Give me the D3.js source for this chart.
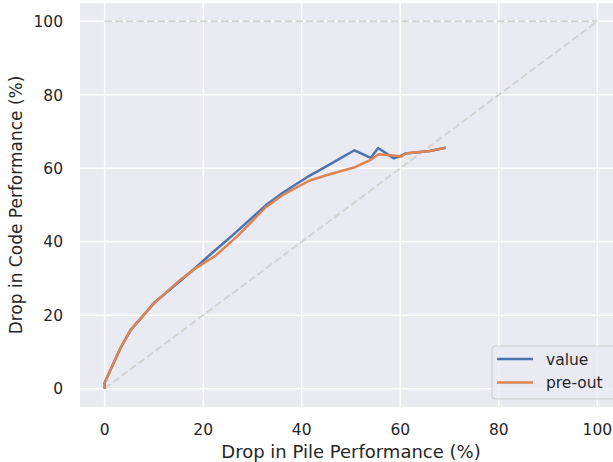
<!DOCTYPE html>
<html>
<head>
<meta charset="utf-8">
<script src="https://cdn.jsdelivr.net/npm/d3@7"></script>
<style>
  body { margin: 0; background: #fff; }
  text { font-family: "DejaVu Sans", sans-serif; fill: #262626; }
</style>
</head>
<body>
<div id="chart"></div>
<script>
// series
var seriesNames = ["value", "pre-out"];
var valueX = [0, 0, 3.2, 5.3, 10, 15.5, 18.5, 21.5, 26, 32.7, 36, 41, 45, 50.7, 54, 55.5, 58.7, 60, 61, 66, 69.2];
var valueY = [0, 1.6, 11, 16, 23.3, 29.5, 33, 36.6, 41.8, 49.9, 53.2, 57.5, 60.5, 64.9, 62.8, 65.5, 62.7, 63.3, 64, 64.7, 65.6];
var preoutX = [0, 0, 3.2, 5.3, 10, 15.5, 18.5, 22.5, 27, 32.7, 36, 41.5, 45, 50.6, 54, 55.6, 58.5, 60.3, 61, 66, 69.2];
var preoutY = [0, 1.6, 11, 16, 23.2, 29.8, 32.8, 36.2, 41.6, 49.4, 52.6, 56.6, 58.1, 60.2, 62.3, 63.8, 63.5, 63.2, 64, 64.7, 65.6];
var xTicks = [0, 20, 40, 60, 80, 100];
var yTicks = [0, 20, 40, 60, 80, 100];
var colors = ["#4c72b0", "#dd8452"];

var width = 613,
    height = 462;
var margin = {left: 80, top: 3, plotW: 542, plotH: 404};

var x = d3.scaleLinear().domain([-5, 105]).range([margin.left, margin.left + margin.plotW]);
var y = d3.scaleLinear().domain([-5, 105]).range([margin.top + margin.plotH, margin.top]);

var svg = d3.select("#chart").append("svg")
    .attr("width", width)
    .attr("height", height)

// background
svg.append("rect")
    .attr("x", x(-5)).attr("y", y(105))
    .attr("width", x(105) - x(-5)).attr("height", y(-5) - y(105))
    .attr("fill", "#eaeaf2")

// grid
svg.selectAll(".vgrid").data(xTicks).enter().append("line")
    .attr("x1", function (d) { return x(d) }).attr("x2", function (d) { return x(d) })
    .attr("y1", y(-5)).attr("y2", y(105))
    .attr("stroke", "#fff").attr("stroke-width", 1.5)
svg.selectAll(".hgrid").data(yTicks).enter().append("line")
    .attr("y1", function (d) { return y(d) }).attr("y2", function (d) { return y(d) })
    .attr("x1", x(-5)).attr("x2", x(105))
    .attr("stroke", "#fff").attr("stroke-width", 1.5)

// reference lines
svg.append("line")
    .attr("x1", x(0)).attr("y1", y(0)).attr("x2", x(100)).attr("y2", y(100))
    .attr("stroke", "#d3d3d3").attr("stroke-width", 2).attr("stroke-dasharray", "7.4,3.2")
svg.append("line")
    .attr("x1", x(0)).attr("y1", y(100)).attr("x2", x(100)).attr("y2", y(100))
    .attr("stroke", "#d3d3d3").attr("stroke-width", 2).attr("stroke-dasharray", "7.4,3.2")

// axes tick labels
svg.selectAll(".xt").data(xTicks).enter().append("text")
    .attr("x", function (d) { return x(d) })
    .attr("y", 435)
    .attr("text-anchor", "middle")
    .style("font-size", "15.5px")
    .text(function (d) { return d })
svg.selectAll(".yt").data(yTicks).enter().append("text")
    .attr("x", 63)
    .attr("y", function (d) { return y(d) + 5.7 })
    .attr("text-anchor", "end")
    .style("font-size", "15.5px")
    .text(function (d) { return d })

svg.append("text")
    .attr("x", x(50)).attr("y", 458)
    .attr("text-anchor", "middle")
    .style("font-size", "18px")
    .text("Drop in Pile Performance (%)")
svg.append("text")
    .attr("transform", "translate(22," + y(50) + ") rotate(-90)")
    .attr("text-anchor", "middle")
    .style("font-size", "17px")
    .text("Drop in Code Performance (%)")

// lines
var line = d3.line()
    .x(function (d) { return x(d[0]) })
    .y(function (d) { return y(d[1]) });

var series = [d3.zip(valueX, valueY), d3.zip(preoutX, preoutY)];
svg.selectAll(".series").data(series).enter().append("path")
    .attr("d", line)
    .attr("fill", "none")
    .attr("stroke", function (d, i) { return colors[i] })
    .attr("stroke-width", 2.5)
    .attr("stroke-linejoin", "round")

// legend
var lg = svg.append("g").attr("transform", "translate(492,346)");
lg.append("rect")
    .attr("width", 124).attr("height", 53).attr("rx", 3)
    .attr("fill", "#eaeaf2").attr("fill-opacity", 0.8)
    .attr("stroke", "#cccccc")
var item = lg.selectAll(".item").data(seriesNames).enter().append("g")
    .attr("transform", function (d, i) { return "translate(0," + (13 + i * 23.5) + ")" });
item.append("line")
    .attr("x1", 5).attr("x2", 41)
    .attr("stroke", function (d, i) { return colors[i] })
    .attr("stroke-width", 2.5)
item.append("text")
    .attr("x", 54).attr("y", 5.5)
    .style("font-size", "15.5px")
    .text(function (d) { return d })
</script>
</body>
</html>
